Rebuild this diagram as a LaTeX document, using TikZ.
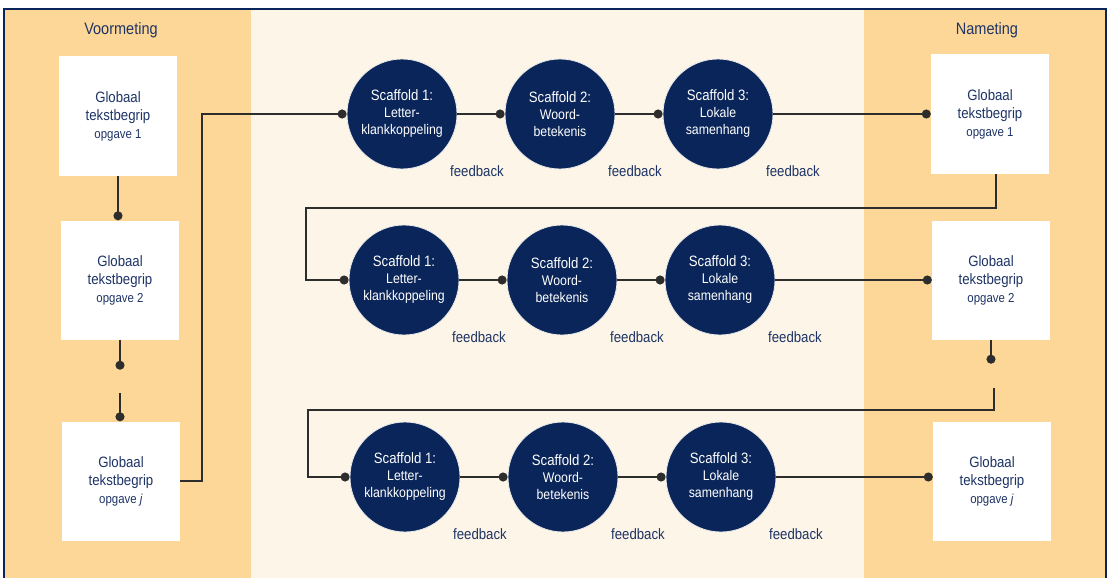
\documentclass[tikz,border=0pt]{standalone}
\usepackage{fontspec}
\setmainfont{Liberation Sans}[FakeStretch=0.88]
\usetikzlibrary{arrows.meta}

\definecolor{panel}{RGB}{253,215,151}
\definecolor{cream}{RGB}{253,245,231}
\definecolor{navy}{RGB}{10,37,89}
\definecolor{ink}{RGB}{30,52,102}
\definecolor{wire}{RGB}{45,45,45}

\newcommand{\bigline}{\fontsize{15}{18}\selectfont}
\newcommand{\smallline}{\fontsize{13}{18}\selectfont}
\newcommand{\subline}{\fontsize{14}{17}\selectfont}

\tikzset{
  taskbox/.style={fill=white, minimum width=118pt, minimum height=119pt,
    inner sep=0pt, align=center, text=ink, font=\bigline},
  scaffold/.style={circle, fill=navy, draw=white!85!gray, line width=0.8pt,
    minimum size=110pt, inner sep=0pt, align=center, text=white,
    font=\fontsize{15}{17}\selectfont},
  fb/.style={text=ink, font=\fontsize{15}{17}\selectfont},
  head/.style={text=ink, font=\fontsize{16.5}{18}\selectfont},
  link/.style={draw=wire, line width=1.5pt, -{Circle[length=9pt]}},
}

\begin{document}
\begin{tikzpicture}[x=1pt, y=-1pt]
  \useasboundingbox (0,0) rectangle (1112,578);
  % panels and frame
  \fill[panel] (4,9) rectangle (251,590);
  \fill[cream] (251,9) rectangle (864,590);
  \fill[panel] (864,9) rectangle (1106,590);
  \draw[navy, line width=1.5pt] (4,9) rectangle (1106,590);

  \node[head] (pre) at (121,30) {Voormeting};
  \node[head] (post) at (987,30) {Nameting};

  % pre-test and post-test tasks
  \node[taskbox] (lb1) at (118,116) {Globaal\\tekstbegrip\\{\smallline opgave 1}};
  \node[taskbox] (lb2) at (120,280) {Globaal\\tekstbegrip\\{\smallline opgave 2}};
  \node[taskbox] (lb3) at (121,481) {Globaal\\tekstbegrip\\{\smallline opgave \textit{j}}};
  \node[taskbox] (rb1) at (990,114) {Globaal\\tekstbegrip\\{\smallline opgave 1}};
  \node[taskbox] (rb2) at (991,280) {Globaal\\tekstbegrip\\{\smallline opgave 2}};
  \node[taskbox] (rb3) at (992,481) {Globaal\\tekstbegrip\\{\smallline opgave \textit{j}}};

  % scaffolds
  \node[scaffold] (c11) at (402,114) {Scaffold 1:\\{\subline Letter-}\\{\subline klankkoppeling}};
  \node[scaffold] (c12) at (560,114) {Scaffold 2:\\{\subline Woord-}\\{\subline betekenis}};
  \node[scaffold] (c13) at (718,114) {Scaffold 3:\\{\subline Lokale}\\{\subline samenhang}};
  \node[scaffold] (c21) at (404,280) {Scaffold 1:\\{\subline Letter-}\\{\subline klankkoppeling}};
  \node[scaffold] (c22) at (562,280) {Scaffold 2:\\{\subline Woord-}\\{\subline betekenis}};
  \node[scaffold] (c23) at (720,280) {Scaffold 3:\\{\subline Lokale}\\{\subline samenhang}};
  \node[scaffold] (c31) at (405,477) {Scaffold 1:\\{\subline Letter-}\\{\subline klankkoppeling}};
  \node[scaffold] (c32) at (563,477) {Scaffold 2:\\{\subline Woord-}\\{\subline betekenis}};
  \node[scaffold] (c33) at (721,477) {Scaffold 3:\\{\subline Lokale}\\{\subline samenhang}};

  \node[fb] (fb11) at ([shift={(75,57)}]c11) {feedback};
  \node[fb] (fb12) at ([shift={(75,57)}]c12) {feedback};
  \node[fb] (fb13) at ([shift={(75,57)}]c13) {feedback};
  \node[fb] (fb21) at ([shift={(75,57)}]c21) {feedback};
  \node[fb] (fb22) at ([shift={(75,57)}]c22) {feedback};
  \node[fb] (fb23) at ([shift={(75,57)}]c23) {feedback};
  \node[fb] (fb31) at ([shift={(75,57)}]c31) {feedback};
  \node[fb] (fb32) at ([shift={(75,57)}]c32) {feedback};
  \node[fb] (fb33) at ([shift={(75,57)}]c33) {feedback};

  % bends of the long connectors
  \coordinate (bendA) at (202,114);
  \coordinate (turnA) at (996,208);
  \coordinate (turnB) at (306,208);
  \coordinate (gapL) at (120,393);
  \coordinate (turnC) at (994,388);
  \coordinate (turnD) at (994,410);
  \coordinate (turnE) at (308,410);

  % left column
  \draw[link] (lb1.south) -- (lb1.south |- lb2.north);
  \draw[link] (lb2.south) -- ++(0,30);
  \draw[link] (gapL) -- (gapL |- lb3.north);
  \draw[link] (lb3.east) -| (bendA) -- (c11.west);

  % rows
  \draw[link] (c11) -- (c12);
  \draw[link] (c12) -- (c13);
  \draw[link] (c13) -- (rb1);
  \draw[link] (rb1.south -| turnA) -- (turnA) -- (turnB) |- (c21.west);
  \draw[link] (c21) -- (c22);
  \draw[link] (c22) -- (c23);
  \draw[link] (c23) -- (rb2);
  \draw[link] (rb2.south) -- ++(0,24);
  \draw[link] (turnC) -- (turnD) -- (turnE) |- (c31.west);
  \draw[link] (c31) -- (c32);
  \draw[link] (c32) -- (c33);
  \draw[link] (c33.east) -- (c33.east -| rb3.west);
\end{tikzpicture}
\end{document}
